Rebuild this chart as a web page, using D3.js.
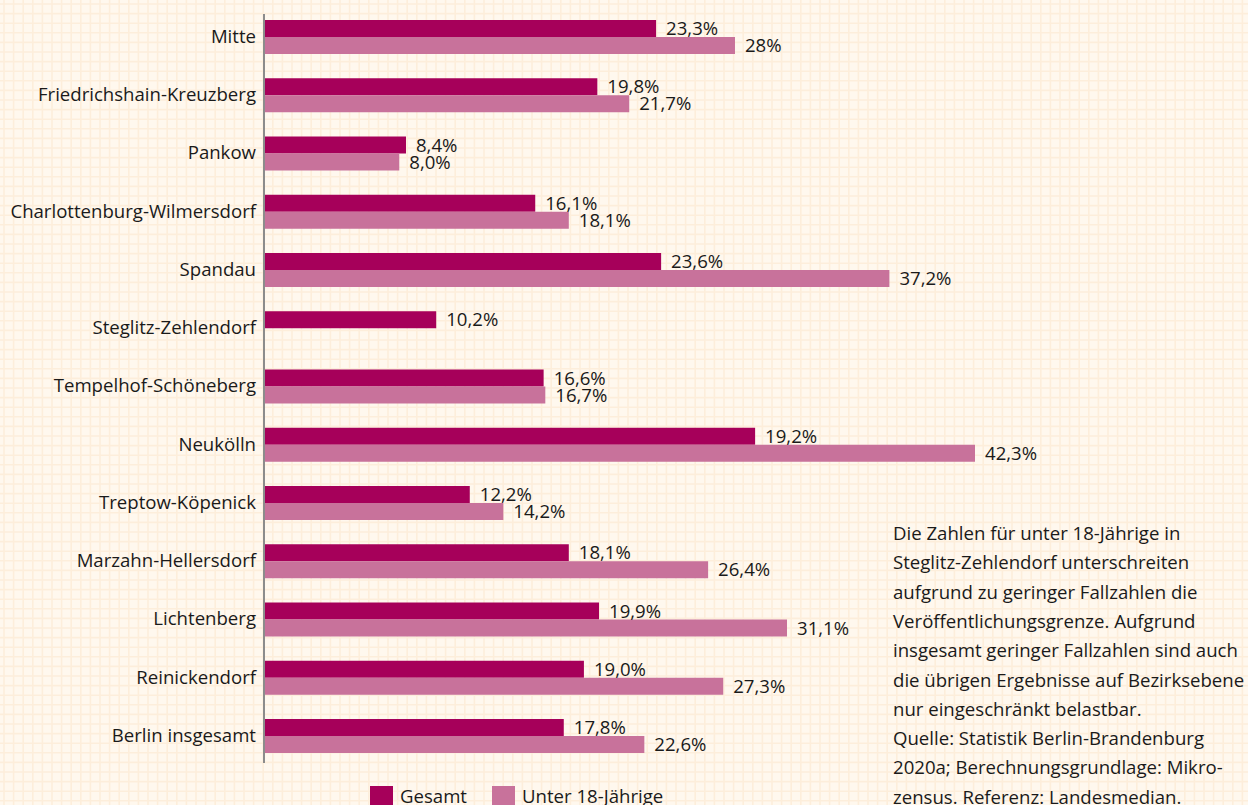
<!DOCTYPE html>
<html><head><meta charset="utf-8">
<script src="https://cdn.jsdelivr.net/npm/d3@7"></script>
<style>
html,body{margin:0;padding:0;background:#fff8ee;}
svg{display:block;font-family:"Open Sans", Lato, sans-serif;}
</style></head>
<body>
<svg id="chart" width="1248" height="805"></svg>
<script>
const categories = ["Mitte","Friedrichshain-Kreuzberg","Pankow","Charlottenburg-Wilmersdorf","Spandau","Steglitz-Zehlendorf","Tempelhof-Schöneberg","Neukölln","Treptow-Köpenick","Marzahn-Hellersdorf","Lichtenberg","Reinickendorf","Berlin insgesamt"];
// bar lengths as drawn in the reference (Neukölln's Gesamt bar is drawn at ~29.2 although labelled 19,2%)
const gesamt = [23.3,19.8,8.4,16.1,23.6,10.2,16.6,29.2,12.2,18.1,19.9,19.0,17.8];
const unter18 = [28,21.7,8.0,18.1,37.2,null,16.7,42.3,14.2,26.4,31.1,27.3,22.6];
const gesamtLabels = ["23,3%","19,8%","8,4%","16,1%","23,6%","10,2%","16,6%","19,2%","12,2%","18,1%","19,9%","19,0%","17,8%"];
const unter18Labels = ["28%","21,7%","8,0%","18,1%","37,2%","","16,7%","42,3%","14,2%","26,4%","31,1%","27,3%","22,6%"];
const seriesNames = ["Gesamt","Unter 18-Jährige"];
const colors = ["#a6005a","#c8729b"];
const noteLines = ["Die Zahlen für unter 18-Jährige in","Steglitz-Zehlendorf unterschreiten","aufgrund zu geringer Fallzahlen die","Veröffentlichungsgrenze. Aufgrund","insgesamt geringer Fallzahlen sind auch","die übrigen Ergebnisse auf Bezirksebene","nur eingeschränkt belastbar.","Quelle: Statistik Berlin-Brandenburg","2020a; Berechnungsgrundlage: Mikro-","zensus. Referenz: Landesmedian."];

const svg = d3.select("#chart");
const W = 1248, H = 805;
const FS = 18.6;

// background grid
const grid = svg.append("g");
grid.append("rect").attr("width",W).attr("height",H).attr("fill","#fff8ee");
const gs = 9.6;
for (let x = 4; x < W; x += gs) grid.append("line").attr("x1",x).attr("x2",x).attr("y1",0).attr("y2",H).attr("stroke","#fdeedb").attr("stroke-width",1.6);
for (let y = 4; y < H; y += gs) grid.append("line").attr("y1",y).attr("y2",y).attr("x1",0).attr("x2",W).attr("stroke","#fdeedb").attr("stroke-width",1.6);

const x0 = 265;
const x = d3.scaleLinear().domain([0,42.3]).range([x0,975]);
const y = d3.scaleBand().domain(categories).range([20,753]).paddingInner(1-34/58.25).paddingOuter(0);
const ySub = d3.scaleBand().domain(seriesNames).range([0,y.bandwidth()]);

const rows = categories.map((c,i)=>({c, vals:[
  {s:seriesNames[0], v:gesamt[i], l:gesamtLabels[i]},
  {s:seriesNames[1], v:unter18[i], l:unter18Labels[i]}]}));

const g = svg.append("g");
const grp = g.selectAll("g.row").data(rows).join("g").attr("transform",d=>`translate(0,${y(d.c)})`);
grp.selectAll("rect").data(d=>d.vals.filter(v=>v.v!=null)).join("rect")
  .attr("x",x(0)).attr("y",d=>ySub(d.s)).attr("height",ySub.bandwidth())
  .attr("width",d=>x(d.v)-x(0)).attr("fill",d=>colors[seriesNames.indexOf(d.s)]);
grp.selectAll("text.val").data(d=>d.vals.filter(v=>v.v!=null)).join("text").attr("class","val")
  .attr("x",d=>x(d.v)+10).attr("y",d=>ySub(d.s)+ySub.bandwidth()/2+6.5)
  .attr("font-size",FS).attr("fill","#1a1a1a").text(d=>d.l);

// y axis
const axis = d3.axisLeft(y).tickSize(0).tickPadding(8);
const ax = svg.append("g").attr("transform",`translate(${x0-1},0)`).call(axis);
ax.select(".domain").remove();
ax.selectAll("text").attr("font-size",FS).attr("fill","#1a1a1a").attr("font-family","'Open Sans', sans-serif");
svg.append("line").attr("x1",x0-1).attr("x2",x0-1).attr("y1",14).attr("y2",763).attr("stroke","#8c8c8c").attr("stroke-width",2);

// legend
const leg = svg.append("g");
const legX = [370,492];
seriesNames.forEach((s,i)=>{
  leg.append("rect").attr("x",legX[i]).attr("y",786).attr("width",23).attr("height",20).attr("fill",colors[i]);
  leg.append("text").attr("x",legX[i]+30).attr("y",803).attr("font-size",FS).attr("fill","#1a1a1a").text(s);
});

// note
svg.append("g").selectAll("text").data(noteLines).join("text")
  .attr("x",893).attr("y",(d,i)=>540+i*29.3).attr("font-size",FS).attr("fill","#1a1a1a").text(d=>d);
</script>
</body></html>
